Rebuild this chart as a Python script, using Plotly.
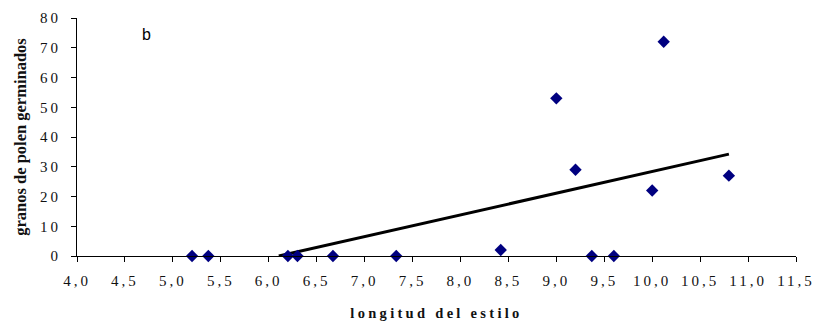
import numpy as np
import plotly.graph_objects as go

# data
longitud = [5.20, 5.37, 6.20, 6.30, 6.67, 7.33, 8.42, 9.00, 9.20, 9.37, 9.60, 10.00, 10.12, 10.80]
granos = [0, 0, 0, 0, 0, 0, 2, 53, 29, 0, 0, 22, 72, 27]
x_ticks = [4.0, 4.5, 5.0, 5.5, 6.0, 6.5, 7.0, 7.5, 8.0, 8.5, 9.0, 9.5, 10.0, 10.5, 11.0, 11.5]
x_ticktext = [f"{v:.1f}".replace(".", ",") for v in x_ticks]
y_ticks = [0, 10, 20, 30, 40, 50, 60, 70, 80]

# linear trendline (least squares) over the data range
slope, intercept = np.polyfit(longitud, granos, 1)
x0 = max(min(longitud), -intercept / slope)  # y axis starts at 0
xl = [x0, max(longitud)]
yl = [slope * v + intercept for v in xl]

fig = go.Figure()
fig.add_trace(go.Scatter(x=xl, y=yl, mode="lines",
                         line=dict(color="black", width=3), showlegend=False,
                         hoverinfo="skip"))
fig.add_trace(go.Scatter(x=longitud, y=granos, mode="markers",
                         marker=dict(symbol="diamond", size=9.5, color="#000080",
                                     line=dict(width=0)),
                         cliponaxis=False, showlegend=False))

font_serif = "Liberation Serif, Times New Roman, serif"
fig.update_layout(
    width=816, height=324,
    margin=dict(l=77, r=20, t=18, b=68),
    plot_bgcolor="white", paper_bgcolor="white",
    font=dict(family=font_serif, size=15, color="#111111"),
    xaxis=dict(range=[4.0, 11.5], tickvals=x_ticks, ticktext=x_ticktext,
               showgrid=False, zeroline=False, showline=True, linecolor="black",
               linewidth=1, ticks="outside", ticklen=5, tickcolor="black",
               ticklabelstandoff=6, automargin=False,
               title=dict(text="<b>longitud del estilo</b>", font=dict(size=14.5), standoff=19)),
    yaxis=dict(range=[0, 80], tickvals=y_ticks,
               showgrid=False, zeroline=False, showline=True, linecolor="black",
               linewidth=1, ticks="outside", ticklen=5, tickcolor="black",
               ticklabelstandoff=7, automargin=False,
               title=dict(text="<b>granos de polen germinados</b>", font=dict(size=16.5), standoff=15)),
    annotations=[dict(x=4.73, y=74.6, xref="x", yref="y", text="b", showarrow=False,
                      font=dict(family="Liberation Sans, Arial, sans-serif", size=16, color="black"))],
)

post = """
var gd = document.getElementById('{plot_id}');
function spacing() {
  gd.querySelectorAll('.xtick text, .ytick text').forEach(function (t) { t.style.letterSpacing = '3px'; });
  gd.querySelectorAll('.g-xtitle text').forEach(function (t) { t.style.letterSpacing = '3.3px'; });
}
spacing();
if (gd.on) { gd.on('plotly_afterplot', spacing); }
"""
fig.write_html("out.html", post_script=post)
